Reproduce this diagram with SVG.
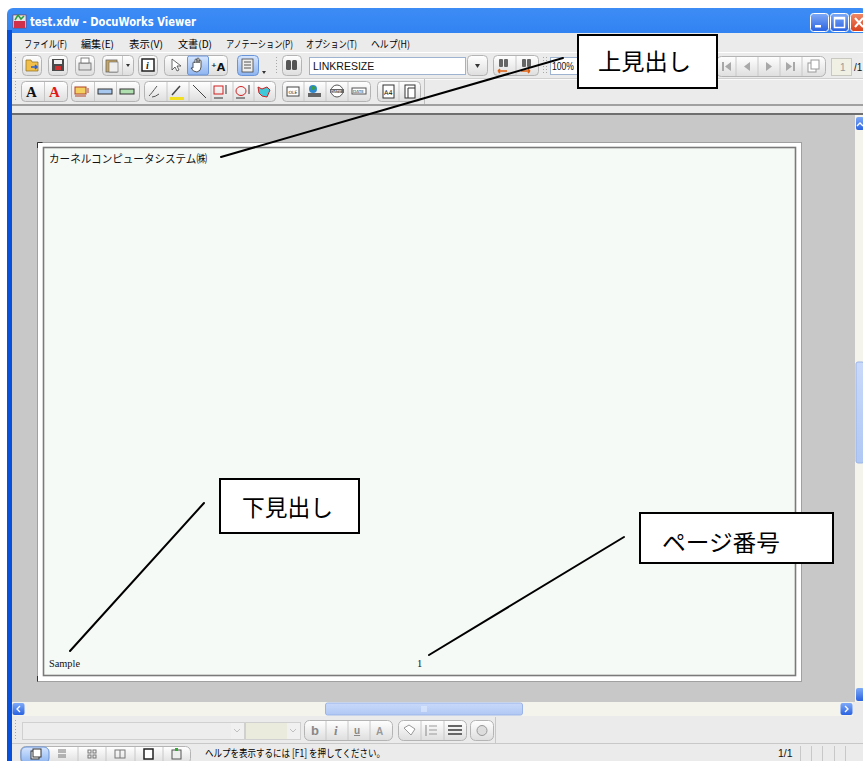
<svg xmlns="http://www.w3.org/2000/svg" width="863" height="761" viewBox="0 0 863 761">
<defs>
<linearGradient id="titleG" x1="0" y1="0" x2="0" y2="1">
<stop offset="0" stop-color="#3D8CF5"/><stop offset="0.15" stop-color="#0A62EA"/><stop offset="0.6" stop-color="#0055E5"/><stop offset="1" stop-color="#0148D0"/>
</linearGradient>
<linearGradient id="btnG" x1="0" y1="0" x2="0" y2="1">
<stop offset="0" stop-color="#FFFFFF"/><stop offset="1" stop-color="#DEDEDE"/>
</linearGradient>
<linearGradient id="selG" x1="0" y1="0" x2="0" y2="1">
<stop offset="0" stop-color="#D6E6FF"/><stop offset="1" stop-color="#8DB4F0"/>
</linearGradient>
<linearGradient id="capG" x1="0" y1="0" x2="0" y2="1">
<stop offset="0" stop-color="#7FAAF8"/><stop offset="1" stop-color="#2A62E0"/>
</linearGradient>
<linearGradient id="closeG" x1="0" y1="0" x2="0" y2="1">
<stop offset="0" stop-color="#F08A6A"/><stop offset="1" stop-color="#D8401C"/>
</linearGradient>
<linearGradient id="thumbG" x1="0" y1="0" x2="0" y2="1">
<stop offset="0" stop-color="#C9D9FA"/><stop offset="1" stop-color="#B0C8F4"/>
</linearGradient>
<pattern id="grip" width="3" height="3" patternUnits="userSpaceOnUse">
<rect width="1" height="1" fill="#A8A8A8"/>
</pattern>
</defs>
<style>
.ui{font-family:"Noto Sans CJK JP","Noto Sans",sans-serif;fill:#000}
.menu{font-size:10px}
.btn{fill:url(#btnG);stroke:#B4B4B4;stroke-width:1}
.sel{fill:url(#selG);stroke:#6A94D8;stroke-width:1}
.field{fill:#FFFFFF;stroke:#9DB3CF;stroke-width:1}
.div{stroke:#C8C8C8;stroke-width:1}
.ico{stroke:#555;stroke-width:1;fill:none}
.pg{font-family:"Noto Sans CJK JP",sans-serif;font-size:11px;fill:#111}
.callout rect{fill:#FFFFFF;stroke:#000;stroke-width:2}
.callout text{font-family:"Noto Sans CJK JP","Noto Sans",sans-serif;font-size:23px;fill:#000}
.connectors line{stroke:#000;stroke-width:2;stroke-linecap:round}
</style>

<rect x="0" y="0" width="863" height="761" fill="#FFFFFF"/>

<!-- window chrome -->
<g id="window">
<rect x="7" y="8" width="860" height="760" rx="6" fill="url(#titleG)"/>
<rect x="7" y="30" width="5" height="731" fill="#0650DC"/>
<rect x="12" y="33" width="851" height="728" fill="#EBEBEB"/>
<!-- title -->
<rect x="13" y="15" width="13" height="13" fill="#E8E8E8" stroke="#8A3030" stroke-width="0.6"/>
<rect x="14" y="21" width="11" height="7" fill="#D0304A"/>
<path d="M15 20 L18 15 L21 19 L24 16" stroke="#2C9C3C" stroke-width="1.5" fill="none"/>
<text x="30" y="26" font-family="'DejaVu Sans',sans-serif" font-weight="bold" font-size="11.5" fill="#FFFFFF" textLength="166" lengthAdjust="spacingAndGlyphs">test.xdw - DocuWorks Viewer</text>
<rect x="810.5" y="13.5" width="18" height="18" rx="3" fill="url(#capG)" stroke="#FFFFFF"/>
<rect x="815" y="25" width="6" height="2.5" fill="#FFFFFF"/>
<rect x="830.5" y="13.5" width="18" height="18" rx="3" fill="url(#capG)" stroke="#FFFFFF"/>
<rect x="834.5" y="17.5" width="10" height="10" fill="none" stroke="#FFFFFF" stroke-width="1.5"/>
<line x1="834.5" y1="18.5" x2="844.5" y2="18.5" stroke="#FFFFFF" stroke-width="2"/>
<rect x="850.5" y="13.5" width="18" height="18" rx="3" fill="url(#closeG)" stroke="#FFFFFF"/>
<path d="M855 18 L863 27 M863 18 L855 27" stroke="#FFFFFF" stroke-width="2"/>

<!-- menu -->
<g class="ui menu">
<text x="24" y="48" textLength="43" lengthAdjust="spacingAndGlyphs">ファイル(F)</text>
<text x="81" y="48" textLength="33" lengthAdjust="spacingAndGlyphs">編集(E)</text>
<text x="129" y="48" textLength="34" lengthAdjust="spacingAndGlyphs">表示(V)</text>
<text x="178" y="48" textLength="34" lengthAdjust="spacingAndGlyphs">文書(D)</text>
<text x="226" y="48" textLength="67" lengthAdjust="spacingAndGlyphs">アノテーション(P)</text>
<text x="306" y="48" textLength="51" lengthAdjust="spacingAndGlyphs">オプション(T)</text>
<text x="371" y="48" textLength="39" lengthAdjust="spacingAndGlyphs">ヘルプ(H)</text>
</g>

<!-- toolbar rows -->
<line x1="12" y1="52.5" x2="863" y2="52.5" stroke="#FFFFFF"/>
<line x1="12" y1="78.5" x2="863" y2="78.5" stroke="#D0D0D0"/>
<line x1="12" y1="79.5" x2="863" y2="79.5" stroke="#FAFAFA"/>
<rect x="13" y="55" width="4" height="20" fill="url(#grip)"/>
<rect x="13" y="81" width="4" height="20" fill="url(#grip)"/>
<rect x="274" y="55" width="4" height="20" fill="url(#grip)"/>
<rect x="543" y="55" width="4" height="20" fill="url(#grip)"/>

<!-- toolbar 1 -->
<rect class="btn" x="22.5" y="55.5" width="19" height="20" rx="4"/>
<path d="M26 60 h5 l1 2 h6 v9 h-12 z" fill="#F2C04A" stroke="#8A6A20" stroke-width="0.7"/>
<path d="M31 67 h6 M35 65 l2 2 l-2 2" stroke="#2D5FD0" stroke-width="1.5" fill="none"/>
<rect class="btn" x="48.5" y="55.5" width="19" height="20" rx="4"/>
<rect x="52" y="59" width="12" height="12" fill="#4A4A4A"/><rect x="54" y="60" width="8" height="4" fill="#EEE"/><rect x="55" y="66" width="6" height="4" fill="#D03030"/>
<rect class="btn" x="75.5" y="55.5" width="19" height="20" rx="4"/>
<rect x="79" y="63" width="12" height="7" fill="#E0E0E0" stroke="#666" stroke-width="0.8"/><rect x="81" y="58" width="8" height="5" fill="#FFF" stroke="#666" stroke-width="0.8"/>
<rect class="btn" x="102.5" y="55.5" width="31" height="20" rx="4"/>
<line x1="122.5" y1="56" x2="122.5" y2="75" class="div"/>
<rect x="106" y="60" width="11" height="12" fill="#C9A560" stroke="#666" stroke-width="0.8"/><rect x="109" y="62" width="9" height="10" fill="#EEE" stroke="#666" stroke-width="0.6"/>
<path d="M126 64 h4 l-2 3 z" fill="#333"/>
<rect class="btn" x="138.5" y="55.5" width="19" height="20" rx="4"/>
<rect x="142" y="59" width="12" height="12" fill="#FFF" stroke="#222" stroke-width="1.5"/><text x="146" y="69" font-family="'Liberation Serif',serif" font-style="italic" font-weight="bold" font-size="10" fill="#222">i</text>
<rect class="btn" x="164.5" y="55.5" width="63" height="20" rx="4"/>
<rect class="sel" x="187.5" y="56" width="21" height="19" rx="2"/>
<path d="M172 59 v11 l3 -3 l2 4 l2 -1 l-2 -4 h4 z" fill="#FFF" stroke="#444" stroke-width="0.8"/>
<path d="M193 68 v-5 a1 1 0 0 1 2 0 v-3 a1 1 0 0 1 2 0 v3 v-4 a1 1 0 0 1 2 0 v4 v-2 a1 1 0 0 1 2 0 v6 q0 4 -4 5 q-4 0 -6 -4 z" fill="#FFF" stroke="#333" stroke-width="0.8"/>
<text x="211" y="71" font-family="'DejaVu Sans',sans-serif" font-weight="bold" font-size="11" fill="#111">⁺A</text>
<rect class="sel" x="237.5" y="55.5" width="21" height="20" rx="4"/>
<rect x="242" y="59" width="11" height="13" fill="#EEE" stroke="#444" stroke-width="0.8"/><path d="M244 62 h7 M244 65 h7 M244 68 h7" stroke="#555"/>
<path d="M262 71 h4 l-2 3 z" fill="#333"/>
<rect class="btn" x="282.5" y="55.5" width="19" height="20" rx="4"/>
<rect x="286" y="60" width="5" height="10" rx="1.5" fill="#555"/><rect x="292" y="60" width="5" height="10" rx="1.5" fill="#555"/>
<rect class="field" x="309.5" y="57.5" width="156" height="17"/>
<text x="313" y="70" font-family="'Liberation Sans',sans-serif" font-size="10.5" fill="#111">LINKRESIZE</text>
<rect class="btn" x="467.5" y="55.5" width="20" height="20" rx="4"/>
<path d="M475 64 h5 l-2.5 4 z" fill="#333"/>
<rect class="btn" x="493.5" y="55.5" width="45" height="20" rx="4"/>
<line x1="516" y1="56" x2="516" y2="75" class="div"/>
<rect x="499" y="59" width="4" height="8" rx="1" fill="#666"/><rect x="504" y="59" width="4" height="8" rx="1" fill="#666"/>
<path d="M498 71 h9 M498 71 l2 -2 M498 71 l2 2" stroke="#E06010" stroke-width="1.5" fill="none"/>
<rect x="522" y="59" width="4" height="8" rx="1" fill="#666"/><rect x="527" y="59" width="4" height="8" rx="1" fill="#666"/>
<path d="M521 71 h9 M530 71 l-2 -2 M530 71 l-2 2" stroke="#E06010" stroke-width="1.5" fill="none"/>
<rect class="field" x="550.5" y="57.5" width="30" height="17"/>
<text x="552" y="70" font-family="'Liberation Sans',sans-serif" font-size="10" fill="#111" textLength="22" lengthAdjust="spacingAndGlyphs">100%</text>
<rect class="btn" x="716.5" y="56.5" width="109" height="20" rx="5"/>
<line x1="736" y1="57" x2="736" y2="76" class="div"/><line x1="758" y1="57" x2="758" y2="76" class="div"/><line x1="780" y1="57" x2="780" y2="76" class="div"/><line x1="802" y1="57" x2="802" y2="76" class="div"/>
<g fill="#A8A8A8"><rect x="722" y="62" width="2" height="9"/><path d="M731 62 v9 l-6 -4.5 z"/><path d="M750 62 v9 l-6 -4.5 z"/><path d="M766 62 v9 l6 -4.5 z"/><path d="M786 62 v9 l6 -4.5 z"/><rect x="793" y="62" width="2" height="9"/></g>
<rect x="808" y="63" width="8" height="9" fill="#FFF" stroke="#999"/><rect x="811" y="60" width="8" height="9" fill="#FFF" stroke="#999"/>
<rect x="831.5" y="58.5" width="20" height="17" fill="#F0F0E4" stroke="#C8C8C0"/>
<text x="840" y="71" font-family="'Liberation Sans',sans-serif" font-size="10" fill="#999">1</text>
<text x="854" y="71" font-family="'Liberation Sans',sans-serif" font-size="10" fill="#111">/1</text>

<!-- toolbar 2 -->
<rect class="btn" x="21.5" y="81.5" width="46" height="20" rx="4"/>
<line x1="44.5" y1="82" x2="44.5" y2="101" class="div"/>
<text x="26" y="97" font-family="'Liberation Serif',serif" font-weight="bold" font-size="15" fill="#111">A</text>
<text x="49" y="97" font-family="'Liberation Serif',serif" font-weight="bold" font-size="15" fill="#E01818">A</text>
<rect class="btn" x="71.5" y="81.5" width="68" height="20" rx="4"/>
<line x1="94.5" y1="82" x2="94.5" y2="101" class="div"/><line x1="116.5" y1="82" x2="116.5" y2="101" class="div"/>
<rect x="75" y="87" width="11" height="7" fill="#F4D060" stroke="#B04020"/><path d="M88 88 v5 M75 96 h11" stroke="#B04020"/>
<rect x="98" y="89" width="14" height="5" fill="#A8C8F0" stroke="#333"/>
<rect x="120" y="89" width="14" height="5" fill="#B0E0B0" stroke="#333"/>
<rect class="btn" x="144.5" y="81.5" width="131" height="20" rx="4"/>
<line x1="167" y1="82" x2="167" y2="101" class="div"/><line x1="189" y1="82" x2="189" y2="101" class="div"/><line x1="211" y1="82" x2="211" y2="101" class="div"/><line x1="233" y1="82" x2="233" y2="101" class="div"/><line x1="254" y1="82" x2="254" y2="101" class="div"/>
<path d="M149 96 q2 -2 8 -10 M152 97 q3 0 7 -3" class="ico" stroke-width="1.3"/>
<path d="M172 95 l8 -9" stroke="#444" stroke-width="1.5"/><rect x="170" y="97" width="14" height="3" fill="#F2E020"/>
<line x1="193" y1="85" x2="206" y2="98" stroke="#444"/>
<rect x="214" y="86" width="9" height="8" fill="none" stroke="#D02020"/><path d="M226 85 v9 M214 98 h9" stroke="#333"/>
<ellipse cx="241" cy="91" rx="5" ry="4.5" fill="none" stroke="#D02020"/><path d="M249 85 v9 M236 98 h9" stroke="#333"/>
<path d="M258 87 l4 2 l5 -2 l3 3 l-3 7 l-5 -1 l-3 -3 z" fill="#40C8D8" stroke="#D02020"/>
<rect class="btn" x="282.5" y="81.5" width="88" height="20" rx="4"/>
<line x1="304" y1="82" x2="304" y2="101" class="div"/><line x1="326" y1="82" x2="326" y2="101" class="div"/><line x1="348" y1="82" x2="348" y2="101" class="div"/>
<rect x="287" y="87" width="12" height="9" fill="#FFF" stroke="#444"/><text x="288.5" y="94" font-family="'DejaVu Sans',sans-serif" font-size="4.5" fill="#222">OLE</text>
<circle cx="313" cy="89" r="4" fill="#2E8AD0"/><circle cx="313" cy="88" r="2" fill="#3CA040"/><rect x="308" y="93" width="13" height="4" fill="#666"/>
<circle cx="337" cy="91" r="6" fill="#FFF" stroke="#555"/><rect x="330" y="89" width="14" height="4" fill="#666"/><text x="331" y="92.5" font-family="'DejaVu Sans',sans-serif" font-size="4" fill="#FFF">DATE</text>
<rect x="352" y="88" width="14" height="6" fill="#FFF" stroke="#555"/><text x="353" y="93" font-family="'DejaVu Sans',sans-serif" font-size="4.2" fill="#222">DATE</text>
<rect class="btn" x="377.5" y="81.5" width="43" height="20" rx="4"/>
<line x1="399" y1="82" x2="399" y2="101" class="div"/>
<rect x="383" y="85" width="11" height="13" fill="#FFF" stroke="#333"/><text x="384" y="95" font-family="'DejaVu Sans',sans-serif" font-size="6.5" fill="#111">A4</text>
<rect x="405" y="85" width="10" height="13" fill="#FFF" stroke="#333"/><path d="M408 98 v-10 h7" stroke="#333" fill="none"/>
<line x1="424.5" y1="79" x2="424.5" y2="105" stroke="#C0C0C0"/>

<!-- separator under toolbars -->
<rect x="12" y="104" width="851" height="2" fill="#A0A0A0"/>
<rect x="12" y="106" width="851" height="8" fill="#EBEBEB"/>
<rect x="428" y="109" width="26" height="2" fill="url(#grip)"/>
<rect x="12" y="113" width="851" height="2" fill="#6E6E6E"/>

<!-- document area -->
<rect x="12" y="115" width="843" height="587" fill="#C8C8C8"/>
<!-- vertical scrollbar -->
<rect x="855" y="115" width="8" height="587" fill="#F5F4EC"/>
<rect x="856" y="117" width="8" height="13" rx="2" fill="url(#capG)"/>
<path d="M857 126 l3 -3 l3 3" stroke="#FFF" stroke-width="1.3" fill="none"/>
<rect x="856" y="362" width="8" height="101" rx="2" fill="url(#thumbG)" stroke="#9AB4E8"/>
<rect x="856" y="688" width="8" height="13" rx="2" fill="url(#capG)"/>
<!-- horizontal scrollbar -->
<rect x="12" y="702" width="851" height="14" fill="#F5F4EC"/>
<rect x="12.5" y="703" width="12" height="12" rx="2" fill="url(#capG)"/>
<path d="M20 706 l-3 3 l3 3" stroke="#FFF" stroke-width="1.3" fill="none"/>
<rect x="325.5" y="703" width="197" height="12" rx="2" fill="url(#thumbG)" stroke="#9AB4E8"/>
<path d="M422 706 v6 M424 706 v6 M426 706 v6" stroke="#E8F0FF"/>
<rect x="840.5" y="703" width="12" height="12" rx="2" fill="url(#capG)"/>
<path d="M845 706 l3 3 l-3 3" stroke="#FFF" stroke-width="1.3" fill="none"/>
<rect x="853" y="702" width="10" height="14" fill="#EBEBEB"/>

<!-- bottom toolbar -->
<rect x="13" y="720" width="4" height="20" fill="url(#grip)"/>
<rect x="22.5" y="722.5" width="222" height="17" fill="#EDEDED" stroke="#D0D0D0"/>
<rect x="231" y="723" width="13" height="16" fill="#F0F0F0"/>
<path d="M234 729 l3 3 l3 -3" stroke="#C0C0C0" fill="none"/>
<rect x="245.5" y="722.5" width="55" height="17" fill="#EBEBDD" stroke="#D0D0D0"/>
<rect x="287" y="723" width="13" height="16" fill="#F0F0F0"/>
<path d="M290 729 l3 3 l3 -3" stroke="#C0C0C0" fill="none"/>
<rect class="btn" x="304.5" y="720.5" width="88" height="20" rx="5"/>
<line x1="326" y1="721" x2="326" y2="740" class="div"/><line x1="348" y1="721" x2="348" y2="740" class="div"/><line x1="370" y1="721" x2="370" y2="740" class="div"/>
<text x="311" y="735" font-family="'Liberation Sans',sans-serif" font-weight="bold" font-size="13" fill="#888">b</text>
<text x="334" y="735" font-family="'Liberation Serif',serif" font-style="italic" font-weight="bold" font-size="13" fill="#888">i</text>
<text x="354" y="734" font-family="'Liberation Sans',sans-serif" font-weight="bold" font-size="10" fill="#888" text-decoration="underline">u</text>
<text x="376" y="735" font-family="'Liberation Sans',sans-serif" font-weight="bold" font-size="10" fill="#999">A</text>
<rect class="btn" x="398.5" y="720.5" width="68" height="20" rx="5"/>
<line x1="421" y1="721" x2="421" y2="740" class="div"/><line x1="444" y1="721" x2="444" y2="740" class="div"/>
<path d="M404 728 l5 -3 l6 4 l-4 6 z" fill="#FFF" stroke="#999"/>
<path d="M426 725 v11 M429 726 h8 M429 730 h8 M429 734 h8" stroke="#999" stroke-width="1.2"/>
<path d="M448 726 h14 M448 730 h14 M448 734 h14" stroke="#666" stroke-width="2"/>
<rect class="btn" x="470.5" y="720.5" width="23" height="20" rx="5"/>
<circle cx="482" cy="730.5" r="5" fill="#DDD" stroke="#999"/>
<line x1="495.5" y1="717" x2="495.5" y2="743" stroke="#C8C8C8"/>
<line x1="12" y1="743.5" x2="863" y2="743.5" stroke="#C8C8C8"/>

<!-- status bar -->
<rect class="btn" x="20.5" y="746.5" width="170" height="17" rx="5"/>
<rect class="sel" x="21" y="747" width="28" height="16" rx="5"/>
<line x1="78" y1="747" x2="78" y2="761" class="div"/><line x1="106" y1="747" x2="106" y2="761" class="div"/><line x1="135" y1="747" x2="135" y2="761" class="div"/><line x1="163" y1="747" x2="163" y2="761" class="div"/>
<rect x="31" y="751" width="8" height="8" fill="#FFF" stroke="#333"/><rect x="33" y="749" width="8" height="8" fill="#FFF" stroke="#333"/>
<path d="M58 750 h8 M58 752 h8 M58 755 h8 M58 757 h8" stroke="#777"/>
<rect x="88" y="750" width="3" height="3" fill="none" stroke="#777"/><rect x="93" y="750" width="3" height="3" fill="none" stroke="#777"/><rect x="88" y="755" width="3" height="3" fill="none" stroke="#777"/><rect x="93" y="755" width="3" height="3" fill="none" stroke="#777"/>
<rect x="115" y="750" width="10" height="8" fill="none" stroke="#777"/><line x1="120" y1="750" x2="120" y2="758" stroke="#777"/>
<rect x="144" y="749" width="9" height="10" fill="#FFF" stroke="#222" stroke-width="1.5"/>
<rect x="172" y="750" width="9" height="9" fill="#EEE" stroke="#555"/><rect x="175" y="748" width="3" height="3" fill="#3A3"/>
<text class="ui" x="205" y="757" font-size="10.5" textLength="180" lengthAdjust="spacingAndGlyphs">ヘルプを表示するには [F1] を押してください。</text>
<text x="778" y="757" font-family="'Liberation Sans',sans-serif" font-size="10.5" fill="#111">1/1</text>
<path d="M800.5 746 v15 M811.5 746 v15 M822.5 746 v15 M834.5 746 v15 M845.5 746 v15" stroke="#C8C8C8"/>
</g>

<!-- page -->
<g id="page">
<rect x="37.5" y="142.5" width="764" height="539" fill="#FFFFFF" stroke="#A0A0A0"/>
<path d="M37.5 148 v-5.5 h5" stroke="#333" fill="none"/>
<path d="M37.5 676 v5.5" stroke="#333"/>
<rect x="43.5" y="147.5" width="752" height="528" fill="#F6FAF6" stroke="#7A7A7A" stroke-width="1.6"/>
</g>

<g id="header-text"><text class="pg" x="49" y="163" textLength="158" lengthAdjust="spacingAndGlyphs">カーネルコンピュータシステム㈱</text></g>
<g id="footer-sample"><text x="49" y="667" font-family="'Liberation Serif',serif" font-size="10.5" fill="#111" textLength="31" lengthAdjust="spacingAndGlyphs">Sample</text></g>
<g id="footer-pagenum"><text x="417" y="667" font-family="'Liberation Serif',serif" font-size="10.5" fill="#111">1</text></g>

<!-- connectors -->
<g id="connectors" class="connectors">
<line x1="221" y1="157" x2="563" y2="58"/>
<line x1="204" y1="503" x2="70" y2="651"/>
<line x1="624" y1="537" x2="429" y2="655"/>
</g>

<!-- callouts -->
<g id="callout-top" class="callout">
<rect x="578" y="35" width="139" height="53"/>
<text x="598" y="70" textLength="93" lengthAdjust="spacingAndGlyphs">上見出し</text>
</g>
<g id="callout-bottom" class="callout">
<rect x="220" y="479" width="139" height="54"/>
<text x="242" y="516" textLength="91" lengthAdjust="spacingAndGlyphs">下見出し</text>
</g>
<g id="callout-page" class="callout">
<rect x="640" y="513" width="193" height="50"/>
<text x="662" y="551" textLength="118" lengthAdjust="spacingAndGlyphs">ページ番号</text>
</g>
</svg>
